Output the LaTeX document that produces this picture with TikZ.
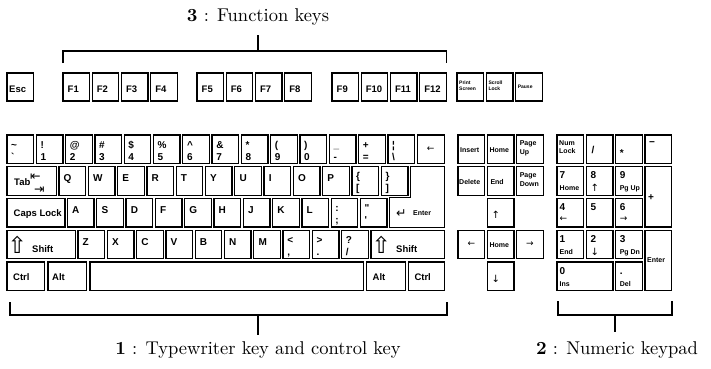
\documentclass[tikz,border=0pt]{standalone}
\usepackage{fontspec}
\newfontfamily\kf{Liberation Sans}
\newfontfamily\symf{DejaVu Sans}
\newfontfamily\capf{lmroman10-regular.otf}[BoldFont=lmroman10-bold.otf]
\tikzset{
  keyb/.style={draw, line width=1.25pt, rectangle, anchor=north west, inner sep=0pt, outer sep=0pt},
  keyl/.style={draw, line width=1.25pt, line join=miter},
  lab/.style={inner sep=0pt, anchor=base west, font=\kf\bfseries\fontsize{10}{12}\selectfont},
  wlab/.style={lab, font=\kf\bfseries\fontsize{9.5}{11}\selectfont},
  slab/.style={lab, font=\kf\bfseries\fontsize{7}{8}\selectfont},
  tlab/.style={lab, font=\kf\bfseries\fontsize{5}{6}\selectfont},
  arrl/.style={lab, font=\symf\fontsize{9}{10}\selectfont},
  arrt/.style={lab, font=\symf\fontsize{12.5}{13}\selectfont},
  arrs/.style={lab, font=\symf\fontsize{10}{10}\selectfont},
  shf/.style={lab, font=\symf\fontsize{23}{23}\selectfont},
  arrc/.style={inner sep=0pt, font=\symf\fontsize{9}{10}\selectfont},
  brk/.style={line width=1.4pt},
  ttl/.style={inner sep=0pt, font=\capf\fontsize{18.5}{21}\selectfont},
}
% key box: name, x, y, width, height
\newcommand\K[5]{\node[keyb,minimum width=#4pt,minimum height=#5pt] (#1) at (#2,#3) {};}
% key label: [style] key, suffix, dx, dy (baseline below key top), text
\newcommand\KL[6][lab]{\node[#1] (#2-#3) at ([xshift=#4pt,yshift=-#5pt]#2.north west) {#6};}
\newcommand\TWO[3]{\KL{#1}{a}{4}{13}{#2}\KL{#1}{b}{4}{25}{#3}}
\newcommand\ONE[2]{\KL{#1}{a}{4.5}{15}{#2}}
\begin{document}
\begin{tikzpicture}[x=1pt,y=-1pt]
\fill[white] (0,0) rectangle (711,368);
\useasboundingbox (0,0) rectangle (711,368);

% ---------- function row ----------
\K{esc}{7}{73}{26.6}{28}\KL[wlab]{esc}{a}{2}{19}{Esc}
\foreach \n/\x in {1/63,2/92.2,3/121.4,4/150.6,5/197,6/226.2,7/255.4,8/284.6,9/332,10/361.2,11/390.4,12/419.6}
  {\K{f\n}{\x}{73}{26.6}{28}\KL[wlab]{f\n}{a}{4.5}{19}{F\n}}
\K{prt}{457}{73}{26.6}{28}\KL[tlab]{prt}{a}{2}{11}{Print}\KL[tlab]{prt}{b}{2}{17}{Screen}
\K{scr}{486.3}{73}{26.6}{28}\KL[tlab]{scr}{a}{2}{11}{Scroll}\KL[tlab]{scr}{b}{2}{17}{Lock}
\K{pause}{515.6}{73}{26.6}{28}\KL[tlab]{pause}{a}{2}{15}{Pause}

% ---------- number row ----------
\K{n0}{7}{135}{26.6}{28.5}\TWO{n0}{\textasciitilde}{\textasciigrave}
\K{n1}{36.3}{135}{26.6}{28.5}\TWO{n1}{!}{1}
\K{n2}{65.6}{135}{26.6}{28.5}\TWO{n2}{@}{2}
\K{n3}{94.9}{135}{26.6}{28.5}\TWO{n3}{\#}{3}
\K{n4}{124.2}{135}{26.6}{28.5}\TWO{n4}{\$}{4}
\K{n5}{153.5}{135}{26.6}{28.5}\TWO{n5}{\%}{5}
\K{n6}{182.8}{135}{26.6}{28.5}\TWO{n6}{\textasciicircum}{6}
\K{n7}{212.1}{135}{26.6}{28.5}\TWO{n7}{\&}{7}
\K{n8}{241.4}{135}{26.6}{28.5}\TWO{n8}{*}{8}
\K{n9}{270.7}{135}{26.6}{28.5}\TWO{n9}{(}{9}
\K{n10}{300}{135}{26.6}{28.5}\TWO{n10}{)}{0}
\K{n11}{329.3}{135}{26.6}{28.5}\TWO{n11}{\_}{-}
\K{n12}{358.6}{135}{26.6}{28.5}\TWO{n12}{+}{=}
\K{n13}{387.9}{135}{26.6}{28.5}\TWO{n13}{¦}{\textbackslash}
\K{bksp}{417.2}{135}{27}{28.5}\node[arrc] (bksp-a) at (bksp.center) {←};

% ---------- Q row ----------
\K{tab}{7}{166.75}{49.5}{28.5}\KL[wlab]{tab}{a}{7}{18.5}{Tab}
\KL[arrt]{tab}{b}{23}{13.5}{⇤}\KL[arrt]{tab}{c}{27}{26.5}{⇥}
\foreach \c/\x in {Q/59,W/88.3,E/117.6,R/146.9,T/176.2,Y/205.5,U/234.8,I/264.1,O/293.4,P/322.7}
  {\K{k\c}{\x}{166.75}{26.6}{28.5}\ONE{k\c}{\c}}
\K{lbr}{352}{166.75}{26.6}{28.5}\TWO{lbr}{\{}{[}
\K{rbr}{381.3}{166.75}{26.6}{28.5}\TWO{rbr}{\}}{]}
\draw[keyl] (410.6,166.75) -- (444.2,166.75) -- (444.2,227.25) -- (389.8,227.25)
  -- (389.8,197.4) -- (410.6,197.4) -- cycle;
\node[arrt] (ent-a) at (396,217) {↵};
\node[slab] (ent-l) at (413,215) {Enter};

% ---------- A row ----------
\K{caps}{7}{198.5}{58}{28.5}\KL[wlab]{caps}{a}{6.5}{18}{Caps Lock}
\foreach \c/\x in {A/67.5,S/96.8,D/126.1,F/155.4,G/184.7,H/214,J/243.3,K/272.6,L/301.9}
  {\K{k\c}{\x}{198.5}{26.6}{28.5}\ONE{k\c}{\c}}
\K{semi}{331.2}{198.5}{26.6}{28.5}\TWO{semi}{:}{;}
\K{quot}{360.5}{198.5}{26.6}{28.5}\TWO{quot}{\textquotedbl}{\textquotesingle}

% ---------- Z row ----------
\K{lsh}{7}{230.25}{68.3}{28.5}\KL[shf]{lsh}{a}{0.5}{23.5}{⇧}\KL[wlab]{lsh}{b}{25}{22}{Shift}
\foreach \c/\x in {Z/78,X/107.3,C/136.6,V/165.9,B/195.2,N/224.5,M/253.8}
  {\K{k\c}{\x}{230.25}{26.6}{28.5}\ONE{k\c}{\c}}
\K{comma}{283.1}{230.25}{26.6}{28.5}\TWO{comma}{<}{,}
\K{period}{312.4}{230.25}{26.6}{28.5}\TWO{period}{>}{.}
\K{slash}{341.7}{230.25}{26.6}{28.5}\TWO{slash}{?}{/}
\K{rsh}{371}{230.25}{73.2}{28.5}\KL[shf]{rsh}{a}{0.5}{23.5}{⇧}\KL[wlab]{rsh}{b}{25}{22}{Shift}

% ---------- bottom row ----------
\K{lctrl}{7}{262}{37.8}{28.5}\KL[wlab]{lctrl}{a}{6}{18}{Ctrl}
\K{lalt}{48}{262}{38.8}{28.5}\KL[wlab]{lalt}{a}{4}{18}{Alt}
\K{space}{90}{262}{273.3}{28.5}
\K{ralt}{366.5}{262}{38.8}{28.5}\KL[wlab]{ralt}{a}{6}{18}{Alt}
\K{rctrl}{408.3}{262}{35.9}{28.5}\KL[wlab]{rctrl}{a}{6}{18}{Ctrl}

% ---------- navigation cluster ----------
\K{ins}{458}{135}{26.6}{28.5}\KL[slab]{ins}{a}{2}{17}{Insert}
\K{home}{487.3}{135}{26.6}{28.5}\KL[slab]{home}{a}{2}{17}{Home}
\K{pgup}{516.6}{135}{26.6}{28.5}\KL[slab]{pgup}{a}{3}{10.5}{Page}\KL[slab]{pgup}{b}{3}{19.5}{Up}
\K{del}{458}{166.75}{26.6}{28.5}\KL[slab]{del}{a}{1}{18}{Delete}
\K{end}{487.3}{166.75}{26.6}{28.5}\KL[slab]{end}{a}{3}{18}{End}
\K{pgdn}{516.6}{166.75}{26.6}{28.5}\KL[slab]{pgdn}{a}{3}{10.5}{Page}\KL[slab]{pgdn}{b}{3}{19.5}{Down}
\K{up}{487.3}{198.5}{26.6}{28.5}\KL[arrs]{up}{a}{4}{20}{↑}
\K{left}{458}{230.25}{26.6}{28.5}\node[arrc] (left-a) at (left.center) {←};
\K{home2}{487.3}{230.25}{26.6}{28.5}\KL[slab]{home2}{a}{2}{17}{Home}
\K{right}{516.6}{230.25}{26.6}{28.5}\node[arrc] (right-a) at (right.center) {→};
\K{down}{487.3}{262}{26.6}{28.5}\KL[arrs]{down}{a}{4}{20}{↓}

% ---------- numeric keypad ----------
\K{num}{557}{135}{26.6}{28.5}\KL[slab]{num}{a}{2}{10}{Num}\KL[slab]{num}{b}{2}{18}{Lock}
\K{div}{586.3}{135}{26.6}{28.5}\KL{div}{a}{5}{18}{/}
\K{mul}{615.6}{135}{26.6}{28.5}\KL{mul}{a}{4}{21}{*}
\K{sub}{644.9}{135}{26.6}{28.5}\KL{sub}{a}{4}{10}{−}
\K{p7}{557}{166.75}{26.6}{28.5}\KL{p7}{a}{2.5}{12}{7}\KL[slab]{p7}{b}{2.5}{24}{Home}
\K{p8}{586.3}{166.75}{26.6}{28.5}\KL{p8}{a}{4}{12}{8}\KL[arrs]{p8}{b}{4}{25}{↑}
\K{p9}{615.6}{166.75}{26.6}{28.5}\KL{p9}{a}{4}{12}{9}\KL[slab]{p9}{b}{4}{24}{Pg Up}
\K{add}{644.9}{166.75}{26.6}{60.25}\KL{add}{a}{3}{34}{+}
\K{p4}{557}{198.5}{26.6}{28.5}\KL{p4}{a}{2.5}{12}{4}\KL[arrl]{p4}{b}{2.5}{23}{←}
\K{p5}{586.3}{198.5}{26.6}{28.5}\KL{p5}{a}{4}{12}{5}
\K{p6}{615.6}{198.5}{26.6}{28.5}\KL{p6}{a}{4}{12}{6}\KL[arrl]{p6}{b}{4}{23}{→}
\K{p1}{557}{230.25}{26.6}{28.5}\KL{p1}{a}{2.5}{12}{1}\KL[slab]{p1}{b}{2.5}{24}{End}
\K{p2}{586.3}{230.25}{26.6}{28.5}\KL{p2}{a}{4}{12}{2}\KL[arrs]{p2}{b}{4}{25}{↓}
\K{p3}{615.6}{230.25}{26.6}{28.5}\KL{p3}{a}{4}{12}{3}\KL[slab]{p3}{b}{4}{24}{Pg Dn}
\K{pent}{644.9}{230.25}{26.6}{60.25}\KL[slab]{pent}{a}{2}{32}{Enter}
\K{p0}{557}{262}{55.9}{28.5}\KL{p0}{a}{2.5}{12}{0}\KL[slab]{p0}{b}{2.5}{24}{Ins}
\K{pdot}{615.6}{262}{26.6}{28.5}\KL{pdot}{a}{4}{12}{.}\KL[slab]{pdot}{b}{4}{24}{Del}

% ---------- brackets and captions ----------
\node[ttl] (t3) at (258,17) {\textbf{3} : Function keys};
\coordinate (fbl) at (63,63);
\coordinate (fbr) at (446.5,63);
\coordinate (fbm) at (258,51);
\coordinate (fbt) at (258,35);
\draw[brk] (fbl) -- (fbl |- fbm) -- (fbr |- fbm) -- (fbr);
\draw[brk] (fbm) -- (fbt);

\node[ttl] (t1) at (258,350) {\textbf{1} : Typewriter key and control key};
\coordinate (mbl) at (10,302);
\coordinate (mbr) at (447,302);
\coordinate (mbm) at (258,315);
\coordinate (mbt) at (258,335);
\draw[brk] (mbl) -- (mbl |- mbm) -- (mbr |- mbm) -- (mbr);
\draw[brk] (mbm) -- (mbt);

\node[ttl] (t2) at (617,350) {\textbf{2} : Numeric keypad};
\coordinate (nbl) at (558,301);
\coordinate (nbr) at (672,301);
\coordinate (nbm) at (615,315);
\coordinate (nbt) at (615,332);
\draw[brk] (nbl) -- (nbl |- nbm) -- (nbr |- nbm) -- (nbr);
\draw[brk] (nbm) -- (nbt);
\end{tikzpicture}
\end{document}
